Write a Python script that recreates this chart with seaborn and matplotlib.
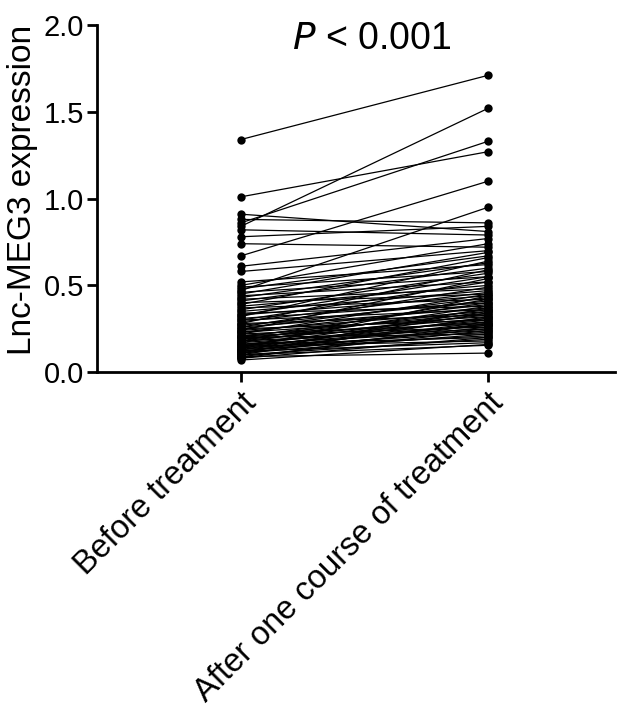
import matplotlib
matplotlib.use("Agg")
import matplotlib.pyplot as plt
import seaborn as sns
import pandas as pd

categories = ["Before treatment", "After one course of treatment"]

before = [1.34, 1.01, 0.91, 0.88, 0.86, 0.84, 0.82, 0.78, 0.74, 0.67,
          0.61, 0.58, 0.52, 0.50, 0.49, 0.48, 0.47, 0.46, 0.45, 0.44,
          0.43, 0.42, 0.41, 0.40, 0.39, 0.38, 0.37, 0.36, 0.35, 0.34,
          0.33, 0.33, 0.32, 0.31, 0.30, 0.30, 0.29, 0.28, 0.28, 0.27,
          0.26, 0.26, 0.25, 0.25, 0.24, 0.24, 0.23, 0.23, 0.22, 0.22,
          0.21, 0.21, 0.20, 0.20, 0.20, 0.19, 0.19, 0.18, 0.18, 0.18,
          0.17, 0.17, 0.16, 0.16, 0.16, 0.15, 0.15, 0.15, 0.14, 0.14,
          0.14, 0.13, 0.13, 0.13, 0.12, 0.12, 0.12, 0.11, 0.11, 0.11,
          0.10, 0.10, 0.10, 0.09, 0.09, 0.08, 0.08, 0.07]

after = [1.71, 1.27, 0.81, 0.86, 1.33, 1.52, 0.79, 0.84, 0.72, 1.10,
         0.77, 0.70, 0.62, 0.74, 0.58, 0.67, 0.95, 0.55, 0.69, 0.52,
         0.63, 0.48, 0.60, 0.45, 0.66, 0.50, 0.42, 0.57, 0.47, 0.38,
         0.55, 0.44, 0.64, 0.40, 0.52, 0.36, 0.46, 0.33, 0.59, 0.41,
         0.37, 0.49, 0.30, 0.43, 0.35, 0.54, 0.32, 0.39, 0.28, 0.45,
         0.34, 0.26, 0.40, 0.31, 0.22, 0.36, 0.29, 0.42, 0.25, 0.33,
         0.27, 0.38, 0.24, 0.30, 0.20, 0.35, 0.27, 0.18, 0.31, 0.23,
         0.44, 0.28, 0.21, 0.34, 0.25, 0.17, 0.29, 0.22, 0.37, 0.26,
         0.19, 0.32, 0.155, 0.24, 0.11, 0.28, 0.20, 0.16]

y_ticks = [0.0, 0.5, 1.0, 1.5, 2.0]
y_label = "Lnc-MEG3 expression"
p_text = "< 0.001"

rows = []
for i, (b, a) in enumerate(zip(before, after)):
    rows.append({"id": i, "x": 0, "value": b})
    rows.append({"id": i, "x": 1, "value": a})
df = pd.DataFrame(rows)

sns.set_style("ticks")
plt.rcParams["font.family"] = ["Liberation Sans", "DejaVu Sans"]
plt.rcParams["text.color"] = "black"
plt.rcParams["axes.labelcolor"] = "black"

fig = plt.figure(figsize=(6.24, 7.13), dpi=100)
ax = fig.add_axes([0.155, 0.478, 0.831, 0.487])

sns.lineplot(data=df, x="x", y="value", units="id", estimator=None,
             color="black", linewidth=0.9, marker="o", markersize=6.0,
             markeredgewidth=0, ax=ax, legend=False)
for ln in ax.get_lines():
    ln.set_clip_on(False)

ax.set_xlim(-0.583, 1.514)
ax.set_ylim(0, 2.0)
ax.set_yticks(y_ticks)
ax.set_yticklabels([f"{v:.1f}" for v in y_ticks], fontsize=21)
ax.set_xticks([0, 1])
ax.set_xticklabels(categories, fontsize=23.5, rotation=45, ha="right",
                   rotation_mode="anchor")
ax.set_xlabel("")
ax.set_ylabel(y_label, fontsize=24, color="black")
ax.yaxis.set_label_coords(-0.114, 0.524)

for s in ["top", "right"]:
    ax.spines[s].set_visible(False)
for s in ["left", "bottom"]:
    ax.spines[s].set_linewidth(2.0)
    ax.spines[s].set_color("black")
ax.tick_params(axis="both", width=2.0, length=7, color="black",
               labelcolor="black", pad=2)
ax.tick_params(axis="x", pad=4)

ax.text(0.531, 0.96, r"$\it{P}$ " + p_text, transform=ax.transAxes,
        ha="center", va="center", fontsize=27, color="black")

fig.savefig("out.png", dpi=100, facecolor="white")
